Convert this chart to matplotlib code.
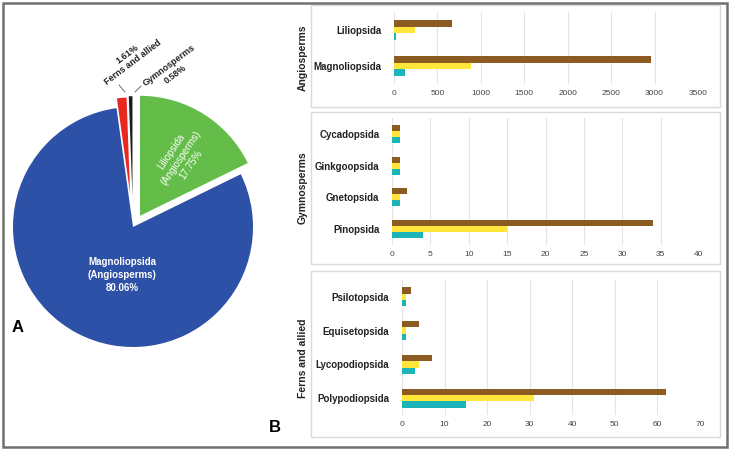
import numpy as np
import matplotlib
matplotlib.use('Agg')
import matplotlib.pyplot as plt
from matplotlib.patches import Rectangle

plt.rcParams['font.family'] = ['Liberation Sans', 'DejaVu Sans']

# pie data (share of species, %)
pie_labels = ['Liliopsida', 'Magnoliopsida', 'Ferns and allied', 'Gymnosperms']
pie_values = [17.75, 80.06, 1.61, 0.58]
pie_colors = ['#63bd48', '#2d51a6', '#e8291f', '#1c1c1c']
pie_explode = [0.11, 0.0, 0.28, 0.25]

# bar data, three series per class
angio_classes = ['Liliopsida', 'Magnoliopsida']
angio_brown = [672, 2960]
angio_yellow = [240, 884]
angio_teal = [25, 128]

gymno_classes = ['Cycadopsida', 'Ginkgoopsida', 'Gnetopsida', 'Pinopsida']
gymno_brown = [1, 1, 2, 34]
gymno_yellow = [1, 1, 1, 15]
gymno_teal = [1, 1, 1, 4]

fern_classes = ['Psilotopsida', 'Equisetopsida', 'Lycopodiopsida', 'Polypodiopsida']
fern_brown = [2, 4, 7, 62]
fern_yellow = [1, 1, 4, 31]
fern_teal = [1, 1, 3, 15]

W, H = 730, 450
BROWN, YELLOW, TEAL = '#8b5b22', '#ffe63b', '#1bb4b9'


def px_rect(left, top, right, bottom):
    return [left / W, 1 - bottom / H, (right - left) / W, (bottom - top) / H]


fig = plt.figure(figsize=(W / 100, H / 100), dpi=100)
fig.patch.set_facecolor('white')

# pie (panel A): centre at (133, 227) px, radius 120 px
R = 120
cx, cy = 133, 227
half = 130
ax = fig.add_axes(px_rect(cx - half, cy - half, cx + half, cy + half))
wedges, _ = ax.pie(pie_values, explode=pie_explode, colors=pie_colors, startangle=90,
                   counterclock=False, wedgeprops=dict(linewidth=0))
wedges[2].set_radius(0.8)
wedges[3].set_radius(0.84)
ax.set_xlim(-half / R, half / R)
ax.set_ylim(-half / R, half / R)
ax.set_aspect('equal')


def d(x, y):
    return (x - cx) / R, (cy - y) / R


ax.text(*d(122, 275), 'Magnoliopsida\n(Angiosperms)\n80.06%', color='white', fontsize=7,
        fontweight='bold', ha='center', va='center', linespacing=1.35)
ax.text(*d(181, 158), 'Liliopsida\n(Angiosperms)\n17.75%', color='white', fontsize=7,
        ha='center', va='center', rotation=56, rotation_mode='anchor', linespacing=1.2)
ax.text(*d(130, 58), '1.61%\nFerns and allied', color='#222222', fontsize=6.5,
        fontweight='bold', ha='center', va='center', rotation=37, rotation_mode='anchor',
        linespacing=1.2)
ax.text(*d(172, 70), 'Gymnosperms\n0.58%', color='#222222', fontsize=6.5,
        fontweight='bold', ha='center', va='center', rotation=37, rotation_mode='anchor',
        linespacing=1.2)
for (x0, y0), (x1, y1) in [((119, 85), (125, 92)), ((135, 92), (141, 86))]:
    ax.plot([d(x0, y0)[0], d(x1, y1)[0]], [d(x0, y0)[1], d(x1, y1)[1]],
            color='#555555', lw=0.6, clip_on=False)


# bar panels (panel B)
def bar_panel(rect, classes, brown, yellow, teal, xmax, step):
    bax = fig.add_axes(px_rect(*rect))
    n = len(classes)
    y = np.arange(n)[::-1]
    h = 0.19
    bax.barh(y + h, brown, height=h, color=BROWN, zorder=3)
    bax.barh(y, yellow, height=h, color=YELLOW, zorder=3)
    bax.barh(y - h, teal, height=h, color=TEAL, zorder=3)
    bax.set_yticks(y)
    bax.set_yticklabels(classes, fontsize=7, fontweight='bold', color='#222222')
    bax.set_xticks(np.arange(0, xmax + step, step))
    bax.tick_params(axis='x', labelsize=6, colors='#444444', length=0, pad=4)
    bax.tick_params(axis='y', length=0, pad=9)
    bax.set_xlim(0, xmax)
    bax.set_ylim(-0.5, n - 0.5)
    bax.grid(axis='x', color='#e4e4e4', lw=0.8, zorder=0)
    for s in bax.spines.values():
        s.set_visible(False)
    return bax


bar_panel((394, 12, 698, 84), angio_classes, angio_brown, angio_yellow, angio_teal, 3500, 500)
bar_panel((392, 118, 699, 245), gymno_classes, gymno_brown, gymno_yellow, gymno_teal, 40, 5)
bar_panel((402, 280, 700, 415), fern_classes, fern_brown, fern_yellow, fern_teal, 70, 10)

# panel boxes and group labels
for top, bottom in [(5, 107), (112, 264), (271, 437)]:
    fig.add_artist(Rectangle((311 / W, 1 - bottom / H), (720 - 311) / W, (bottom - top) / H,
                             transform=fig.transFigure, fill=False, ec='#dadada', lw=1))
for label, yc in [('Angiosperms', 58), ('Gymnosperms', 188), ('Ferns and allied', 358)]:
    fig.text(303 / W, 1 - yc / H, label, rotation=90, fontsize=7.5, fontweight='bold',
             color='#222222', ha='center', va='center')

fig.text(18 / W, 1 - 328 / H, 'A', fontsize=12, fontweight='bold', ha='center', va='center')
fig.text(275 / W, 1 - 428 / H, 'B', fontsize=12, fontweight='bold', ha='center', va='center')

# outer frame
fig.add_artist(Rectangle((3 / W, 3 / H), (W - 6) / W, (H - 6) / H, transform=fig.transFigure,
                         fill=False, ec='#707070', lw=1.8))

fig.savefig('out.png', dpi=100)
